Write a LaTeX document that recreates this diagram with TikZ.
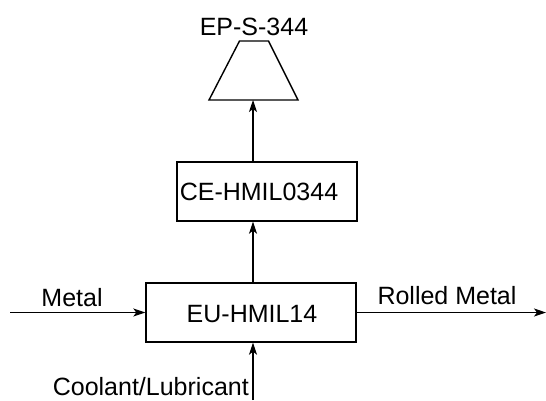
\documentclass[tikz,border=0pt]{standalone}
\usepackage{fontspec}
\setmainfont{Liberation Sans}
\usetikzlibrary{arrows.meta}
\begin{document}
\begin{tikzpicture}[x=1bp,y=-1bp,
  box/.style={draw,line width=1.4bp,rectangle,inner sep=0pt},
  lbl/.style={font=\fontsize{25bp}{28bp}\selectfont,inner sep=0pt},
  arr/.style={line width=1.1bp,-{Stealth[length=12bp,width=8bp,inset=3bp]}}]
\useasboundingbox (0,0) rectangle (546,400);
\coordinate (eptl) at (239.5,41);
\coordinate (eptr) at (268.5,41);
\coordinate (epbr) at (298,100);
\coordinate (epbl) at (209,100);
\coordinate (epb) at (253,100);
\draw[line width=1.4bp,line join=miter] (eptl) -- (eptr) -- (epbr) -- (epbl) -- cycle;
\node[lbl,anchor=base] (eplbl) at (254,35) {EP-S-344};
\node[box,minimum width=180bp,minimum height=59bp] (ce) at (267,191.5) {};
\node[lbl,anchor=base] (celbl) at (259,200) {CE-HMIL0344};
\node[box,minimum width=210bp,minimum height=59bp] (eu) at (251,312.5) {};
\node[lbl,anchor=base] (eulbl) at (252,322) {EU-HMIL14};
\coordinate (min) at (10,312.5);
\coordinate (mout) at (546,312.5);
\coordinate (cool) at (253,400);
\node[lbl,anchor=base] (metal) at (72,306) {Metal};
\node[lbl,anchor=base] (rolled) at (447,304) {Rolled Metal};
\node[lbl,anchor=base east] (coollbl) at (249,395) {Coolant/Lubricant};
\draw[arr] (min) -- (eu.west);
\draw[arr] (eu.east) -- (mout);
\draw[arr] (cool) -- (cool|-eu.south);
\draw[arr] (cool|-eu.north) -- (cool|-ce.south);
\draw[arr] (cool|-ce.north) -- (epb);
\end{tikzpicture}
\end{document}
